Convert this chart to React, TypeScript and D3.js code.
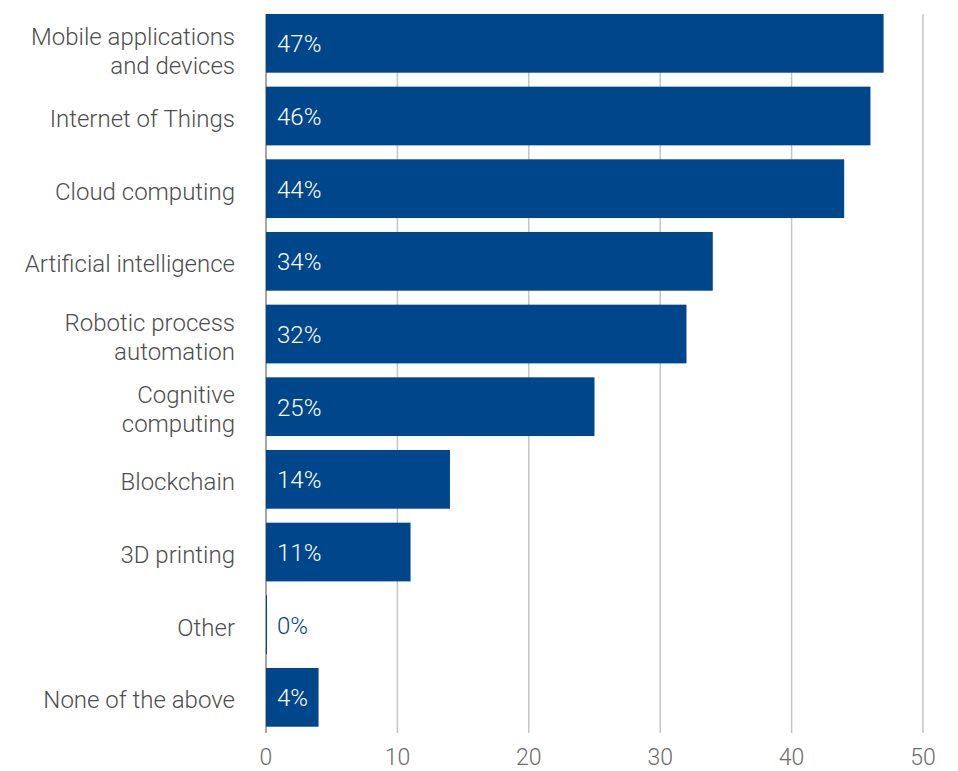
import React from "react";
import * as d3 from "d3";

const categories: string[][] = [
  ["Mobile applications", "and devices"],
  ["Internet of Things"],
  ["Cloud computing"],
  ["Artificial intelligence"],
  ["Robotic process", "automation"],
  ["Cognitive", "computing"],
  ["Blockchain"],
  ["3D printing"],
  ["Other"],
  ["None of the above"],
];
const values: number[] = [47, 46, 44, 34, 32, 25, 14, 11, 0, 4];
const ticks: number[] = [0, 10, 20, 30, 40, 50];

const W = 958;
const H = 771;
const BLUE = "#00468b";
const FONT = "Roboto, 'Liberation Sans', sans-serif";

export default function App() {
  const x = d3.scaleLinear().domain([0, 50]).range([266, 923]);
  const idx = values.map((_, i) => String(i));
  const y = d3
    .scaleBand<string>()
    .domain(idx)
    .range([7, 733.7])
    .paddingInner(0.192)
    .paddingOuter(0.096);
  const bw = y.bandwidth();

  return (
    <svg
      width={W}
      height={H}
      style={{ position: "absolute", left: 0, top: 0, background: "#fff" }}
      fontFamily={FONT}
    >
      {ticks.map((t) => (
        <g key={t}>
          <line
            x1={x(t)}
            x2={x(t)}
            y1={14}
            y2={733}
            stroke={t === 0 ? "#a6a6a6" : "#c4c4c4"}
            strokeWidth={t === 0 ? 2 : 1.5}
          />
          <text
            x={x(t)}
            y={765}
            textAnchor="middle"
            fontSize={23}
            fontWeight={300}
            fill="#6b6b6b"
          >
            {t}
          </text>
        </g>
      ))}
      {values.map((v, i) => {
        const yy = y(String(i))!;
        const cy = yy + bw / 2;
        const lines = categories[i];
        const top = Math.max(37, cy + 3 - ((lines.length - 1) / 2) * 29);
        return (
          <g key={i}>
            {v > 0 && (
              <rect x={x(0)} y={yy} width={x(v) - x(0)} height={bw} fill={BLUE} />
            )}
            {v === 0 && (
              <line x1={x(0) + 0.5} x2={x(0) + 0.5} y1={yy} y2={yy + bw} stroke={BLUE} strokeWidth={1} />
            )}
            <text
              x={277}
              y={cy + 1}
              dominantBaseline="central"
              fontSize={24}
              fontWeight={300}
              fill={v === 0 ? BLUE : "#ffffff"}
            >
              {v}%
            </text>
            {lines.map((l, j) => (
              <text
                key={j}
                x={235}
                y={top + j * 29}
                textAnchor="end"
                dominantBaseline="central"
                fontSize={24}
                fontWeight={300}
                fill="#4d4d4d"
              >
                {l}
              </text>
            ))}
          </g>
        );
      })}
    </svg>
  );
}
